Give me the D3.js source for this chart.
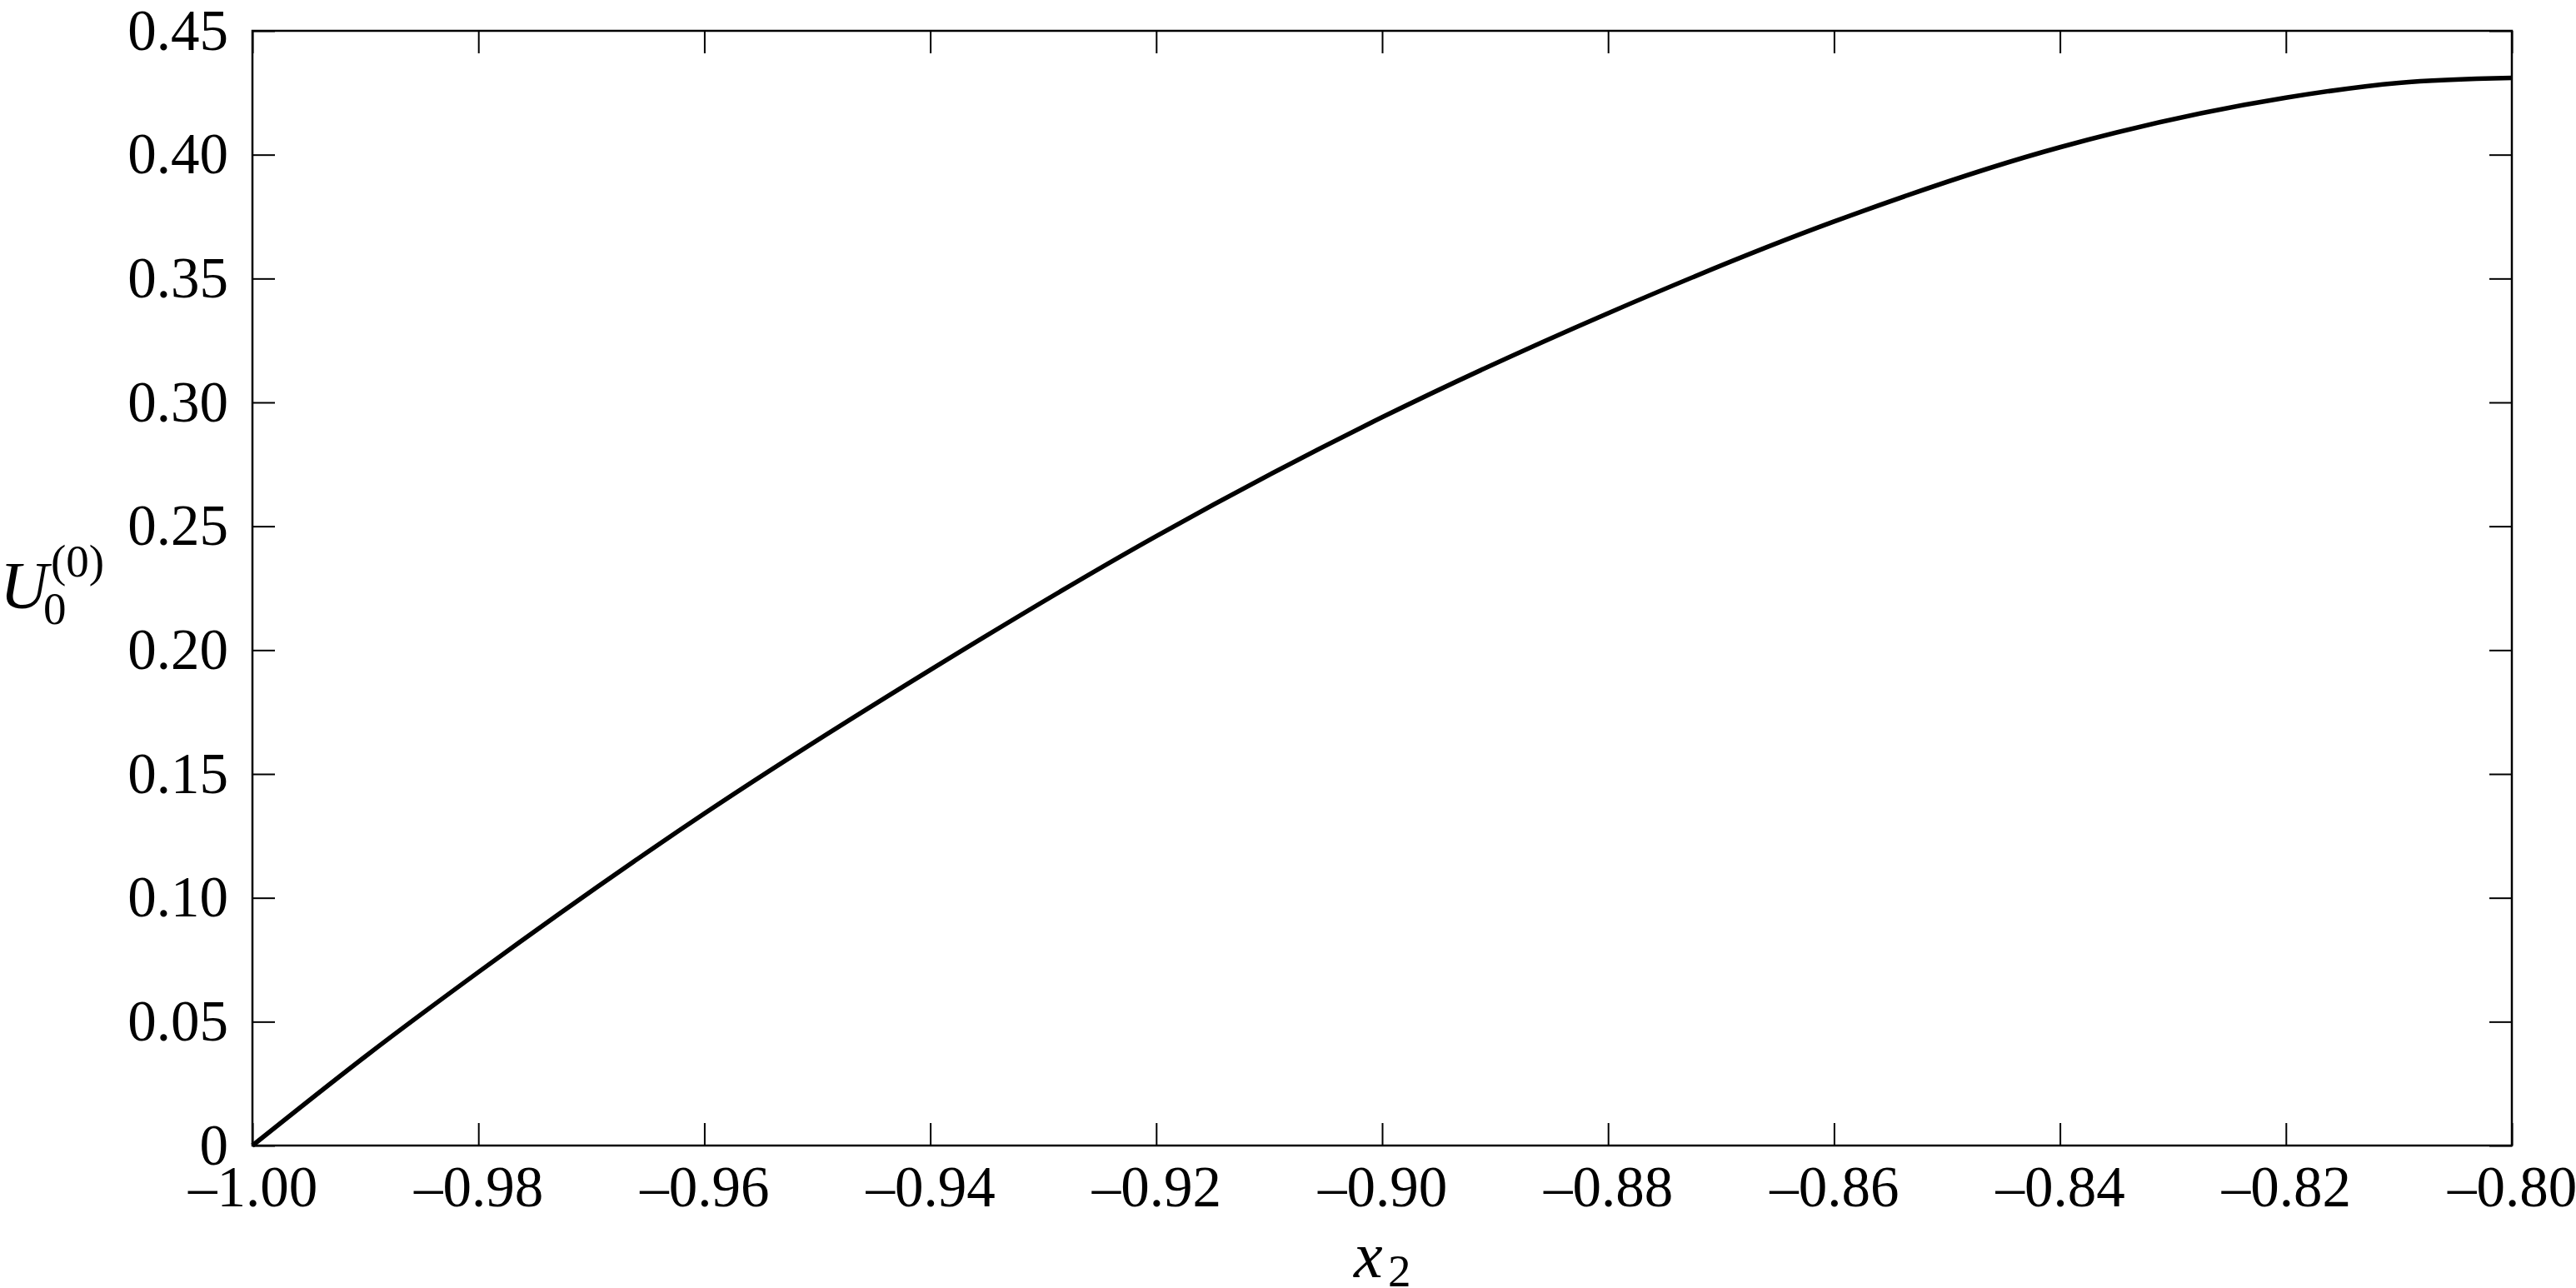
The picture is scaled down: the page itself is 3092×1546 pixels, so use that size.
<!DOCTYPE html>
<html>
<head>
<meta charset="utf-8">
<script src="https://cdn.jsdelivr.net/npm/d3@7"></script>
<style>
  html, body { margin: 0; padding: 0; background: #fff; }
  svg { display: block; }
</style>
</head>
<body>
<script>
// Data
const xValues = [-1.00, -0.99, -0.98, -0.96, -0.94, -0.92, -0.90, -0.88, -0.86, -0.84, -0.82, -0.81, -0.80];
const uValues = [0.000, 0.036, 0.070, 0.134, 0.192, 0.246, 0.294, 0.336, 0.373, 0.403, 0.423, 0.429, 0.431];
const xTicks = [-1.00, -0.98, -0.96, -0.94, -0.92, -0.90, -0.88, -0.86, -0.84, -0.82, -0.80];
const yTicks = [0, 0.05, 0.10, 0.15, 0.20, 0.25, 0.30, 0.35, 0.40, 0.45];
const yTickLabels = ["0", "0.05", "0.10", "0.15", "0.20", "0.25", "0.30", "0.35", "0.40", "0.45"];

const W = 3092, H = 1546;
const m = { left: 303, right: W - 3015, top: 37, bottom: H - 1375 };
const FONT = "'Liberation Serif', 'Times New Roman', Times, serif";

const svg = d3.select("body").append("svg")
  .attr("width", W).attr("height", H)
  .attr("viewBox", `0 0 ${W} ${H}`);

const x = d3.scaleLinear().domain([-1.00, -0.80]).range([m.left, W - m.right]);
const y = d3.scaleLinear().domain([0, 0.45]).range([H - m.bottom, m.top]);

const fmtX = d => (d < 0 ? "\u2013" : "") + Math.abs(d).toFixed(2);

function styleAxis(g, fs) {
  g.select(".domain").remove();
  g.selectAll(".tick line").attr("stroke", "#000").attr("stroke-width", 2);
  g.selectAll(".tick text")
    .attr("fill", "#000")
    .style("font-family", FONT)
    .style("font-size", fs + "px");
}

// bottom axis
svg.append("g")
  .attr("transform", `translate(0,${H - m.bottom})`)
  .call(d3.axisBottom(x).tickValues(xTicks).tickSize(-27).tickPadding(24).tickFormat(fmtX))
  .call(g => styleAxis(g, 69));

// top axis (ticks only)
svg.append("g")
  .attr("transform", `translate(0,${m.top})`)
  .call(d3.axisTop(x).tickValues(xTicks).tickSize(-27).tickFormat(""))
  .call(g => styleAxis(g, 69));

// left axis
svg.append("g")
  .attr("transform", `translate(${m.left},0)`)
  .call(d3.axisLeft(y).tickValues(yTicks).tickSize(-27).tickPadding(29)
    .tickFormat((d, i) => yTickLabels[i]))
  .call(g => styleAxis(g, 69));

// right axis (ticks only)
svg.append("g")
  .attr("transform", `translate(${W - m.right},0)`)
  .call(d3.axisRight(y).tickValues(yTicks).tickSize(-27).tickFormat(""))
  .call(g => styleAxis(g, 69));

// frame
svg.append("rect")
  .attr("x", m.left).attr("y", m.top)
  .attr("width", W - m.left - m.right)
  .attr("height", H - m.top - m.bottom)
  .attr("fill", "none").attr("stroke", "#000").attr("stroke-width", 2.5);

// curve
const data = xValues.map((v, i) => ({ x: v, u: uValues[i] }));
svg.append("path")
  .datum(data)
  .attr("fill", "none")
  .attr("stroke", "#000")
  .attr("stroke-width", 5.5)
  .attr("stroke-linejoin", "round")
  .attr("d", d3.line().x(d => x(d.x)).y(d => y(d.u)).curve(d3.curveMonotoneX));

// y-axis label U_0^(0)
const yl = svg.append("g").style("font-family", FONT).attr("fill", "#000");
yl.append("text").attr("x", 0).attr("y", 730)
  .style("font-size", "80px").style("font-style", "italic").text("U");
yl.append("text").attr("x", 52).attr("y", 749)
  .style("font-size", "55px").text("0");
yl.append("text").attr("x", 61).attr("y", 692)
  .style("font-size", "55px").text("(0)");

// x-axis label x_2
const xl = svg.append("g").style("font-family", FONT).attr("fill", "#000");
xl.append("text").attr("x", 1625).attr("y", 1533)
  .style("font-size", "78px").style("font-style", "italic").text("x");
xl.append("text").attr("x", 1666).attr("y", 1544)
  .style("font-size", "55px").text("2");
</script>
</body>
</html>
